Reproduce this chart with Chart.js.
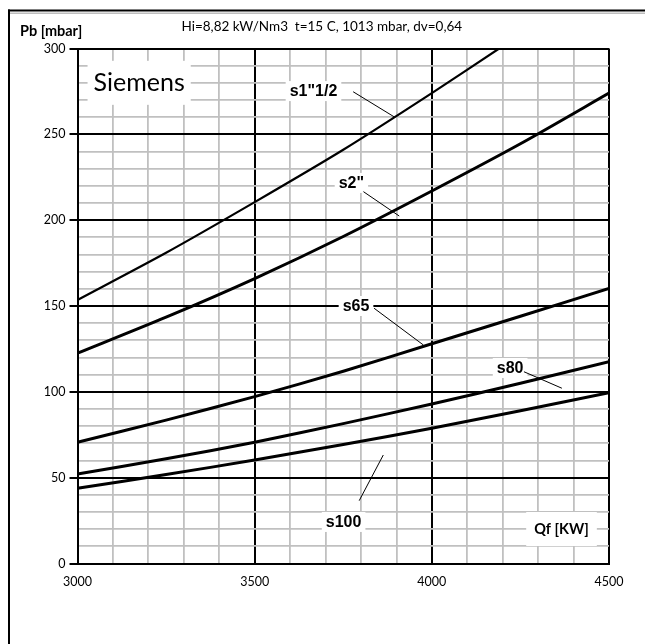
<!DOCTYPE html>
<html lang="it">
<head>
  <meta charset="UTF-8">
  <title>Siemens - Pb / Qf</title>
  <script src="https://cdn.jsdelivr.net/npm/chart.js"></script>
  <style>
    body { margin: 0; background: #fff; }
    #wrap { width: 645px; height: 644px; }
  </style>
</head>
<body>
<div id="wrap"><canvas id="grafico" width="645" height="644"></canvas></div>
<script>
const qfS1 = [3000, 3250, 3500, 3750, 4000, 4190];
const pbS1 = [153.5, 181, 210.5, 241, 274, 300];
const qf = [3000, 3250, 3500, 3750, 4000, 4250, 4500];
const pbS2 = [122.5, 143.5, 166, 190.5, 217, 244.5, 274];
const pbS65 = [70.6, 83.5, 97.2, 112, 128, 144, 160.3];
const pbS80 = [52.1, 61, 70.6, 81.5, 92.9, 105, 117.6];
const pbS100 = [43.8, 51.8, 60.3, 69.3, 78.8, 89, 99.5];

const xTicks = [3000, 3500, 4000, 4500];
const yTicks = [0, 50, 100, 150, 200, 250, 300];

const titolo = 'Hi=8,82 kW/Nm3  t=15 C, 1013 mbar, dv=0,64';
const assiY = 'Pb [mbar]';
const assiX = 'Qf [KW]';
const marca = 'Siemens';

// etichette delle curve, in coordinate del grafico
const note = [
  { text: 's1"1/2', x: 3666, y: 275.2, from: [3778, 274.8], to: [3896, 259.9] },
  { text: 's2"', x: 3773, y: 221.7, from: [3807, 216.6], to: [3908, 202.4] },
  { text: 's65', x: 3786, y: 150, from: [3837, 148.7], to: [3976, 127.3] },
  { text: 's80', x: 4221, y: 113.9, from: [4260, 111.7], to: [4367, 102.1] },
  { text: 's100', x: 3751, y: 24.2, from: [3795, 36.6], to: [3863, 63.2] }
];

function punti(xs, ys) {
  return xs.map((x, i) => ({ x: x, y: ys[i] }));
}

function serie(nome, xs, ys, spessore) {
  return {
    label: nome,
    data: punti(xs, ys),
    showLine: true,
    borderColor: '#000',
    borderWidth: spessore,
    pointRadius: 0,
    tension: 0.25
  };
}

function boxTesto(ctx, testo, cx, cy, font, padX, padY) {
  ctx.font = font;
  const w = ctx.measureText(testo).width;
  ctx.fillStyle = '#fff';
  ctx.fillRect(cx - w / 2 - padX, cy - padY, w + 2 * padX, 2 * padY);
}

const decorazioni = {
  id: 'decorazioni',
  afterDatasetsDraw(chart) {
    const ctx = chart.ctx;
    const sx = chart.scales.x, sy = chart.scales.y;
    ctx.save();
    ctx.textAlign = 'center';
    ctx.textBaseline = 'middle';

    // marchio
    const mx = sx.getPixelForValue(3174), my = sy.getPixelForValue(280);
    boxTesto(ctx, marca, mx, my, '25px Lato', 6, 22);
    ctx.fillStyle = '#000';
    ctx.fillText(marca, mx, my);

    // etichette curve
    const fontNote = 'bold 16px "Liberation Sans"';
    note.forEach(n => {
      const px = sx.getPixelForValue(n.x), py = sy.getPixelForValue(n.y);
      boxTesto(ctx, n.text, px, py, fontNote, 4, 10);
    });
    ctx.strokeStyle = '#000';
    ctx.lineWidth = 1;
    note.forEach(n => {
      ctx.beginPath();
      ctx.moveTo(sx.getPixelForValue(n.from[0]), sy.getPixelForValue(n.from[1]));
      ctx.lineTo(sx.getPixelForValue(n.to[0]), sy.getPixelForValue(n.to[1]));
      ctx.stroke();
    });
    ctx.fillStyle = '#000';
    ctx.font = fontNote;
    note.forEach(n => {
      ctx.fillText(n.text, sx.getPixelForValue(n.x), sy.getPixelForValue(n.y) + 1);
    });

    // titolo asse x
    const qx = sx.getPixelForValue(4366), qy = sy.getPixelForValue(20.1);
    boxTesto(ctx, assiX, qx, qy, 'bold 14.5px Lato', 8, 17);
    ctx.fillStyle = '#000';
    ctx.fillText(assiX, qx, qy);
    ctx.restore();
  },
  afterDraw(chart) {
    const ctx = chart.ctx;
    ctx.save();
    // cornice (solo lato alto e sinistro visibili)
    ctx.fillStyle = '#000';
    ctx.fillRect(8, 9.5, 645, 2);
    ctx.fillRect(8, 9.5, 2, 640);
    ctx.fillStyle = '#bdbdbd';
    ctx.fillRect(10, 12.5, 645, 1.5);

    ctx.fillStyle = '#000';
    ctx.textBaseline = 'middle';
    ctx.textAlign = 'left';
    ctx.font = 'bold 14.5px Lato';
    ctx.fillText(assiY, 20, 31.5);
    ctx.font = '13.5px Lato';
    ctx.fillText(titolo, 181.5, 26.5);
    ctx.restore();
  }
};

new Chart(document.getElementById('grafico'), {
  type: 'scatter',
  data: {
    datasets: [
      serie('s1"1/2', qfS1, pbS1, 2.2),
      serie('s2"', qf, pbS2, 3),
      serie('s65', qf, pbS65, 3),
      serie('s80', qf, pbS80, 3),
      serie('s100', qf, pbS100, 3)
    ]
  },
  options: {
    responsive: false,
    animation: false,
    devicePixelRatio: 1,
    layout: { padding: { top: 48.5, right: 36, left: 0, bottom: 0 } },
    plugins: { legend: { display: false }, tooltip: { enabled: false } },
    scales: {
      x: {
        type: 'linear',
        min: 3000,
        max: 4500,
        afterFit(scale) { scale.height = 80.5; },
        border: { color: '#000', width: 2 },
        grid: {
          color: c => (c.tick.value % 500 === 0 ? '#000' : '#c0c0c0'),
          lineWidth: c => (c.tick.value % 500 === 0 ? 2 : 1.8),
          tickColor: 'rgba(0,0,0,0)',
          tickLength: 8
        },
        ticks: {
          stepSize: 100,
          autoSkip: false,
          maxRotation: 0,
          padding: 3,
          color: '#000',
          font: { family: 'Lato', size: 12.5 },
          callback: v => (xTicks.includes(v) ? String(v) : '')
        }
      },
      y: {
        type: 'linear',
        min: 0,
        max: 300,
        afterFit(scale) { scale.width = 77.5; },
        border: { color: '#000', width: 2 },
        grid: {
          color: c => (c.tick.value % 50 === 0 ? '#000' : '#c0c0c0'),
          lineWidth: c => (c.tick.value % 50 === 0 ? 2 : 1.8),
          tickColor: c => (c.tick.value % 50 === 0 ? '#000' : 'rgba(0,0,0,0)'),
          tickLength: 8
        },
        ticks: {
          stepSize: 10,
          autoSkip: false,
          padding: 4,
          color: '#000',
          font: { family: 'Lato', size: 12.5 },
          callback: v => (yTicks.includes(v) ? String(v) : '')
        }
      }
    }
  },
  plugins: [decorazioni]
});
</script>
</body>
</html>
